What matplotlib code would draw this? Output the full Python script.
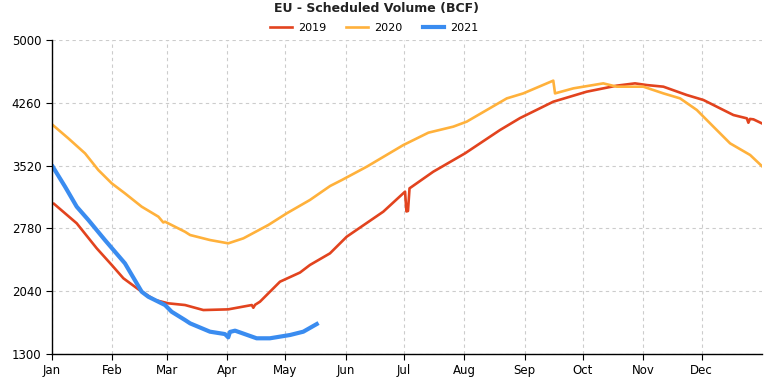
import matplotlib
matplotlib.use("Agg")
import matplotlib.pyplot as plt

title = "EU - Scheduled Volume (BCF)"
month_labels = ["Jan", "Feb", "Mar", "Apr", "May", "Jun", "Jul", "Aug", "Sep", "Oct", "Nov", "Dec"]
month_starts = [0, 31, 59, 90, 120, 151, 181, 212, 243, 273, 304, 334]
y_ticks = [1300, 2040, 2780, 3520, 4260, 5000]

days_2019 = [1, 12.7, 23, 30.7, 36.7, 46.1, 53, 59.8, 68.4, 77.8, 90.6, 102.7, 103.5, 104.4, 106.9,
             117.2, 127.5, 132.6, 142.9, 151.5, 170.3, 181.5, 182.2, 183, 183.8, 196, 212.3, 230.3,
             240.6, 257.7, 274.9, 290.3, 299.7, 305.8, 314.3, 326.3, 334.9, 343.5, 350.3, 357.2,
             358, 358.8, 360.6, 364.9]
vals_2019 = [3070, 2840, 2545, 2349, 2192, 2034, 1936, 1897, 1877, 1818, 1826, 1877, 1845, 1880, 1916,
             2152, 2260, 2349, 2486, 2682, 2977, 3213, 2980, 2985, 3252, 3448, 3664, 3939,
             4080, 4273, 4391, 4462, 4489, 4469, 4450, 4352, 4293, 4194, 4116, 4077,
             4025, 4070, 4065, 4018]

days_2020 = [0, 8.4, 17, 23.8, 30.7, 37.5, 46.1, 54.7, 57.2, 58.1, 68.4, 71, 81.2, 90.6, 98.4,
             111.2, 120.7, 132.6, 143, 149, 161.8, 180.6, 193.5, 206.3, 213.2, 233.8, 242.3, 255.2,
             257.7, 258.6, 268, 283.4, 290.3, 304, 314.3, 322.9, 331.5, 340, 348.6, 358.9, 364.9]
vals_2020 = [4006, 3841, 3664, 3468, 3311, 3193, 3036, 2918, 2850, 2859, 2740, 2702, 2643, 2604, 2663,
             2820, 2958, 3115, 3280, 3350, 3507, 3762, 3908, 3979, 4038, 4312, 4371, 4497,
             4521, 4371, 4430, 4489, 4450, 4450, 4371, 4312, 4175, 3979, 3782, 3645, 3515]

days_2021 = [0.4, 6.7, 12.7, 18.7, 27.2, 37.5, 46.1, 49.5, 58.1, 61.5, 68.4, 71, 81.2, 88.9, 90.6,
             91.5, 94.1, 105.2, 112, 122.4, 129.2, 136.1]
vals_2021 = [3507, 3272, 3036, 2879, 2643, 2368, 2034, 1975, 1877, 1798, 1700, 1661, 1563, 1535, 1496,
             1560, 1575, 1485, 1485, 1524, 1563, 1653]

fig = plt.figure(figsize=(7.69, 3.78), dpi=100)
ax = fig.add_axes([52 / 769, 24 / 378, 710 / 769, 314 / 378])

ax.plot(days_2019, vals_2019, color="#E2431E", lw=1.9, label="2019")
ax.plot(days_2020, vals_2020, color="#FFB13B", lw=1.9, label="2020")
ax.plot(days_2021, vals_2021, color="#3A8CF0", lw=3.0, label="2021")

ax.set_xlim(0, 365)
ax.set_ylim(1300, 5000)
ax.set_xticks(month_starts)
ax.set_xticklabels(month_labels)
ax.set_yticks(y_ticks)
ax.tick_params(axis="both", labelsize=8.5, length=4, colors="black")
ax.grid(True, color="#cccccc", linestyle=(0, (3, 3)), linewidth=0.8)
ax.set_axisbelow(True)
for s in ["top", "right"]:
    ax.spines[s].set_visible(False)
for s in ["left", "bottom"]:
    ax.spines[s].set_color("black")
    ax.spines[s].set_linewidth(1.0)

fig.text(0.49, 0.978, title, ha="center", va="center", fontsize=9, fontweight="bold", color="#222222")
fig.legend(loc="center", bbox_to_anchor=(0.487, 0.925), ncol=3, frameon=False, fontsize=8,
           handlelength=1.9, columnspacing=1.8, handletextpad=0.6)

fig.savefig("out.png", dpi=100)
